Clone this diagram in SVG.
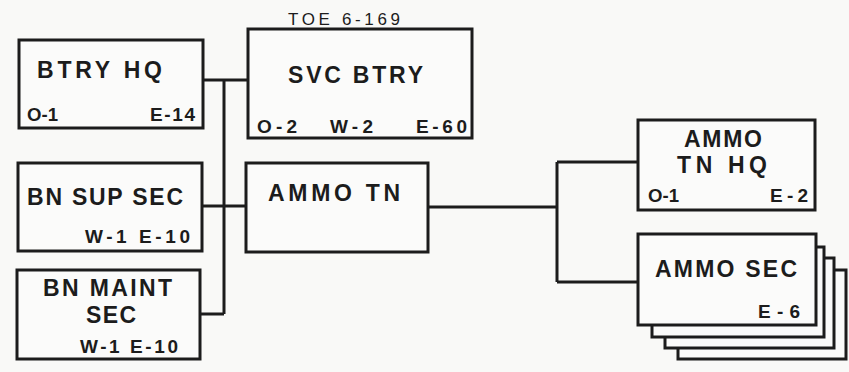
<svg xmlns="http://www.w3.org/2000/svg" width="849" height="372" viewBox="0 0 849 372">
<style>
.box{fill:#fbfbfa;stroke:#1c1c1c;stroke-width:3}
.ln{fill:none;stroke:#1c1c1c;stroke-width:3}
text{font-family:"Liberation Sans",Arial,sans-serif;font-weight:bold;fill:#1c1c1c}
.big{font-size:23px}
.sm{font-size:19px}
.toe{font-size:17px;font-weight:normal}
</style>
<rect width="849" height="372" fill="#f9f9f7"/>
<g id="connectors">
<path class="ln" d="M203,80H248M224,80V314M202,206H246M200,314H224"/>
<path class="ln" d="M428,207H557M557,162V282M557,162H638M557,282H638"/>
</g>
<g id="btry-hq">
<rect class="box" x="19" y="40" width="184" height="88"/>
<text class="big" x="37" y="78" textLength="125" lengthAdjust="spacing">BTRY HQ</text>
<text class="sm" x="27" y="121" textLength="31" lengthAdjust="spacingAndGlyphs">O-1</text>
<text class="sm" x="150" y="121" textLength="45" lengthAdjust="spacing">E-14</text>
</g>
<g id="svc-btry">
<text class="toe" x="288" y="25" textLength="112" lengthAdjust="spacing">TOE 6-169</text>
<rect class="box" x="248" y="29" width="224" height="109"/>
<text class="big" x="288" y="83" textLength="135" lengthAdjust="spacing">SVC BTRY</text>
<text class="sm" x="257" y="133" textLength="40" lengthAdjust="spacing">O-2</text>
<text class="sm" x="330" y="133" textLength="43" lengthAdjust="spacing">W-2</text>
<text class="sm" x="416" y="133" textLength="51" lengthAdjust="spacing">E-60</text>
</g>
<g id="bn-sup-sec">
<rect class="box" x="18" y="163" width="184" height="88"/>
<text class="big" x="27" y="205" textLength="156" lengthAdjust="spacing">BN SUP SEC</text>
<text class="sm" x="85" y="243" textLength="105" lengthAdjust="spacing">W-1  E-10</text>
</g>
<g id="bn-maint-sec">
<rect class="box" x="17" y="270" width="183" height="89"/>
<text class="big" x="43" y="296" textLength="129" lengthAdjust="spacing">BN MAINT</text>
<text class="big" x="86" y="323" textLength="50" lengthAdjust="spacing">SEC</text>
<text class="sm" x="80" y="353" textLength="98" lengthAdjust="spacing">W-1 E-10</text>
</g>
<g id="ammo-tn">
<rect class="box" x="246" y="163" width="182" height="89"/>
<text class="big" x="268" y="201" textLength="132" lengthAdjust="spacing">AMMO TN</text>
</g>
<g id="ammo-tn-hq">
<rect class="box" x="638" y="120" width="177" height="90"/>
<text class="big" x="684" y="147" textLength="78" lengthAdjust="spacing">AMMO</text>
<text class="big" x="677" y="173" textLength="90" lengthAdjust="spacing">TN  HQ</text>
<text class="sm" x="648" y="202" textLength="31" lengthAdjust="spacingAndGlyphs">O-1</text>
<text class="sm" x="770" y="202" textLength="38" lengthAdjust="spacing">E-2</text>
</g>
<g id="ammo-sec">
<rect class="box" x="678" y="270" width="168" height="89"/>
<rect class="box" x="665" y="258" width="169" height="90"/>
<rect class="box" x="652" y="247" width="172" height="90"/>
<rect class="box" x="638" y="234" width="178" height="91"/>
<text class="big" x="655" y="277" textLength="142" lengthAdjust="spacing">AMMO SEC</text>
<text class="sm" x="758" y="318" textLength="42" lengthAdjust="spacing">E-6</text>
</g>
</svg>
